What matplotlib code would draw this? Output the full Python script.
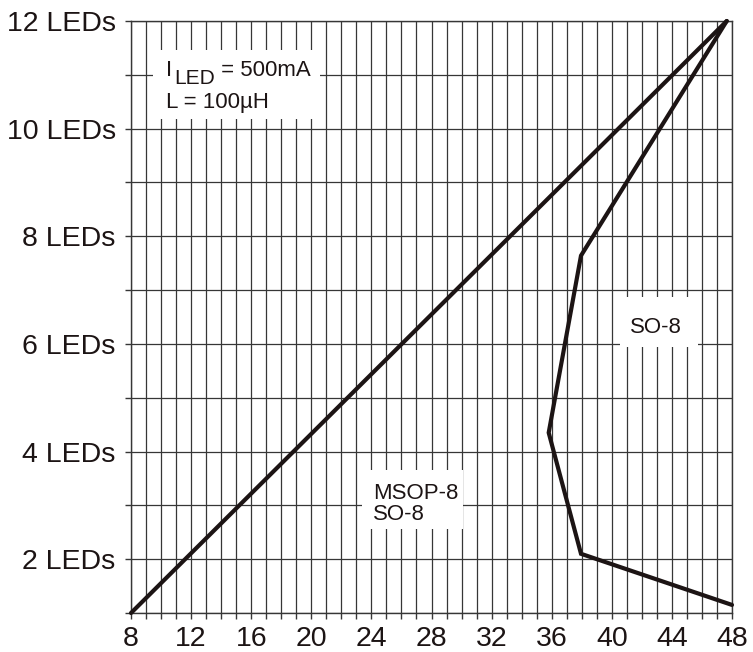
import matplotlib
matplotlib.use("Agg")
import matplotlib.pyplot as plt
from matplotlib.patches import Rectangle
from matplotlib.ticker import MultipleLocator

# Chart data
boundary_x = [8, 47.65]
boundary_y = [1, 12]

so8_x = [47.65, 37.95, 35.8, 37.95, 48]
so8_y = [12, 7.64, 4.35, 2.1, 1.15]

x_ticks = [8, 12, 16, 20, 24, 28, 32, 36, 40, 44, 48]
y_ticks = [2, 4, 6, 8, 10, 12]
y_tick_labels = [f"{n} LEDs" for n in y_ticks]

FONT = "Liberation Sans"
INK = "#1c1414"
GRID = "#363636"

plt.rcParams["font.family"] = [FONT, "DejaVu Sans"]

fig = plt.figure(figsize=(7.53, 6.52), dpi=100)
ax = fig.add_axes([131 / 753, 1 - 613 / 652, 601 / 753, 592 / 652])

ax.set_xlim(8, 48)
ax.set_ylim(1, 12)

# Ticks and grid: one line per unit on both axes
ax.set_xticks(x_ticks)
ax.xaxis.set_minor_locator(MultipleLocator(1))
ax.set_yticks(y_ticks)
ax.set_yticklabels(y_tick_labels)
ax.yaxis.set_minor_locator(MultipleLocator(1))

ax.tick_params(which="both", direction="out", length=4, width=1, color=GRID)
ax.tick_params(axis="x", which="major", labelsize=20.5, pad=5, labelcolor=INK)
ax.tick_params(axis="y", which="major", labelsize=20.5, pad=7, labelcolor=INK)

ax.set_axisbelow(True)
ax.grid(True, which="both", color=GRID, linewidth=0.9)
for side in ax.spines.values():
    side.set_color(GRID)
    side.set_linewidth(1.0)

# Data lines
ax.plot(boundary_x, boundary_y, color=INK, linewidth=3.0, zorder=4,
        solid_capstyle="round", clip_on=False)
ax.plot(so8_x, so8_y, color=INK, linewidth=3.0, zorder=4,
        solid_joinstyle="miter", solid_capstyle="round", clip_on=False)

# White label backgrounds that blank out the grid
for (x0, y0, x1, y1) in [(9.46, 10.17, 20.57, 11.46),
                         (40.53, 5.94, 45.72, 6.88),
                         (23.37, 2.555, 30.09, 3.66)]:
    ax.add_patch(Rectangle((x0, y0), x1 - x0, y1 - y0, facecolor="white",
                           edgecolor="none", zorder=1.5))

# Conditions text: I_LED = 500mA / L = 100uH
fs = 16
t1 = ax.text(10.35, 10.98, "I", fontsize=fs, va="baseline", ha="left",
             color=INK, zorder=3)
t2 = ax.annotate("LED", xy=(1, 0), xycoords=t1, xytext=(1, -2),
                 textcoords="offset points", fontsize=fs - 1, va="baseline",
                 ha="left", color=INK, zorder=3)
ax.annotate(" = 500mA", xy=(1, 0), xycoords=(t2, t1), xytext=(0, 0),
            textcoords="offset points", fontsize=fs, va="bottom", ha="left",
            color=INK, zorder=3)
ax.text(10.35, 10.39, "L = 100µH", fontsize=fs, va="baseline", ha="left",
        color=INK, zorder=3)

# Region labels
ax.text(42.93, 6.31, "SO-8", fontsize=fs, va="center", ha="center",
        color=INK, zorder=3)
ax.text(24.1, 3.11, "MSOP-8", fontsize=fs, va="baseline", ha="left",
        color=INK, zorder=3)
ax.text(24.1, 2.72, "SO-8", fontsize=fs, va="baseline", ha="left",
        color=INK, zorder=3)

fig.savefig("out.png", dpi=100)
